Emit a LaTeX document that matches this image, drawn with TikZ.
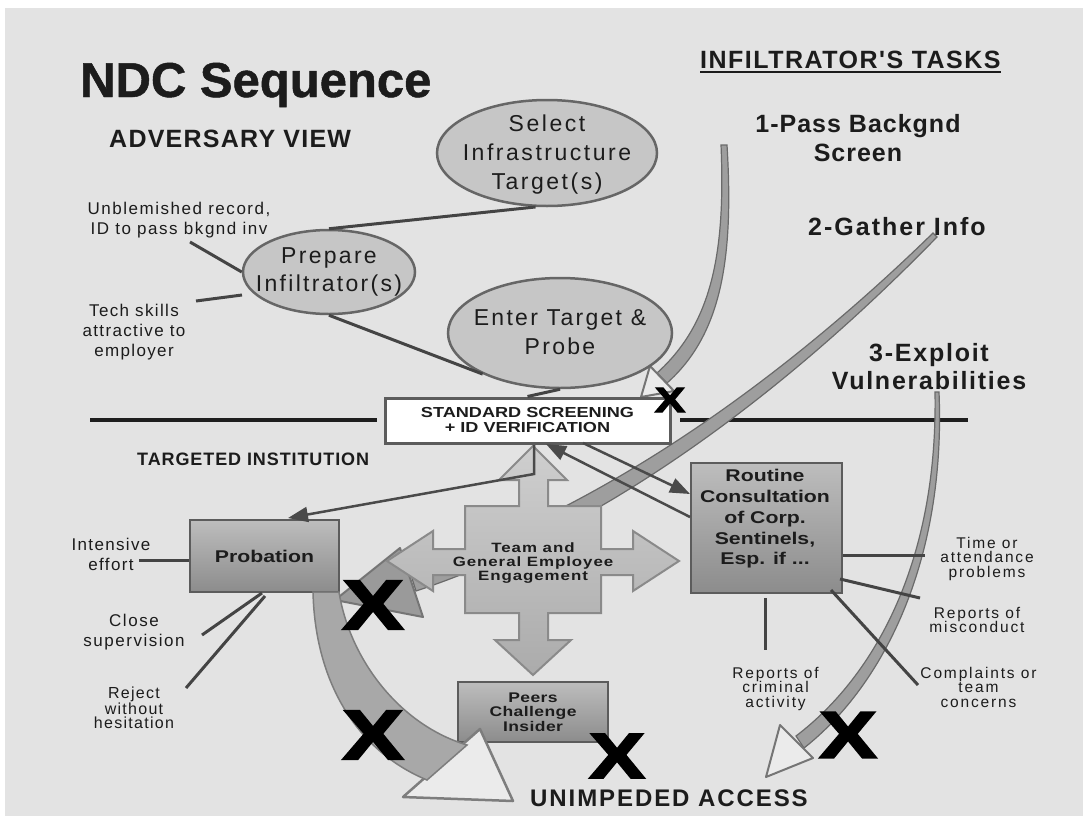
\documentclass[tikz,border=0pt]{standalone}
\usepackage{fontspec}
\usepackage{graphicx}
\setmainfont{Liberation Sans}
\newfontfamily\widesf{Liberation Sans}[FakeStretch=1.25]
\newfontfamily\heavyf{Liberation Sans}[FakeBold=3]
\newfontfamily\titlef{Liberation Sans}[FakeBold=1]
\newfontfamily\plainf{Liberation Sans}
\usetikzlibrary{shapes.geometric,arrows.meta}
\definecolor{bg}{HTML}{E3E3E3}
\definecolor{txtc}{HTML}{1C1C1C}
\definecolor{ellf}{HTML}{C6C6C6}
\definecolor{ellb}{HTML}{666666}
\definecolor{boxb}{HTML}{5C5C5C}
\definecolor{boxt}{HTML}{BDBDBD}
\definecolor{boxd}{HTML}{8C8C8C}
\definecolor{lnc}{HTML}{444444}
\definecolor{arc}{HTML}{4A4A4A}
\definecolor{hlc}{HTML}{1E1E1E}
\definecolor{bandf}{HTML}{9E9E9E}
\definecolor{bande}{HTML}{6A6A6A}
\definecolor{headf}{HTML}{EBEBEB}
\definecolor{heade}{HTML}{757575}
\definecolor{headd}{HTML}{9A9A9A}
\definecolor{crosst}{HTML}{CFCFCF}
\definecolor{crossd}{HTML}{ABABAB}
\definecolor{crossb}{HTML}{8A8A8A}
\definecolor{probf}{HTML}{A8A8A8}
\definecolor{probe}{HTML}{7D7D7D}
\newcommand{\myfs}[2]{\fontsize{#1}{#2}\selectfont}
\newcommand{\myls}[1]{\addfontfeatures{LetterSpace=#1}}
\newcommand{\bigX}{\scalebox{1.3}[1]{X}}
\begin{document}
\begin{tikzpicture}[x=1pt,y=-1pt,
  txt/.style={inner sep=0pt, align=center, text=txtc},
  ell/.style={ellipse, draw=ellb, fill=ellf, line width=2.5pt, inner sep=0pt},
  gbox/.style={rectangle, draw=boxb, line width=2.5pt, top color=boxt, bottom color=boxd, inner sep=0pt, align=center, text=txtc},
  conn/.style={draw=lnc, line width=3pt},
  arr/.style={draw=arc, line width=2.5pt, -{Triangle[length=20pt,width=15pt]}},
  band/.style={fill=bandf, draw=bande, line width=1.2pt},
  ohead/.style={fill=headf, draw=heade, line width=2pt, line join=round},
  xm/.style={inner sep=0pt, text=black},
  hline/.style={draw=hlc, line width=4pt},
]
\useasboundingbox (0,0) rectangle (1089,825);
\fill[white] (0,0) rectangle (1089,825);
\fill[bg] (5,8) rectangle (1083,816);

% dividers
\draw[hline] (90,420) -- (377,420);
\draw[hline] (680,420) -- (968,420);

% task arrow 2 (behind the cross)
\path[band] (933,233) .. controls (776,386) and (597,511) .. (410,572) -- (416,591) .. controls (603,529) and (784,394) .. (937,237) -- cycle;
\path[ohead, fill=headd] (400,548) -- (335,600) -- (423,617) -- cycle;

% task arrow 1
\path[band] (721,145) .. controls (726,260) and (709,326) .. (657,373) -- (667,383) .. controls (721,335) and (734,260) .. (727,145) -- cycle;
\path[ohead] (650,366) -- (641,397) -- (674,391) -- cycle;

% task arrow 3
\path[band] (935,392) .. controls (938,560) and (876,675) .. (796,736) -- (804,748) .. controls (884,685) and (946,560) .. (939,392) -- cycle;
\path[ohead] (780,725) -- (766,777) -- (813,758) -- cycle;

% four-way cross
\path[draw=crossb, line width=2pt, top color=crosst, bottom color=crossd]
 (533,446) -- (567,480) -- (548,480) -- (548,506) -- (601,506) -- (601,549) -- (633,549) -- (633,531) -- (679,561) -- (633,591) -- (633,575) -- (601,575) -- (601,613) -- (548,613) -- (548,640) -- (571,640) -- (533,675) -- (495,640) -- (519,640) -- (519,613) -- (465,613) -- (465,575) -- (433,575) -- (433,591) -- (387,561) -- (433,531) -- (433,549) -- (465,549) -- (465,506) -- (519,506) -- (519,480) -- (499,480) -- cycle;
\node[txt, font=\widesf\bfseries\myfs{13.5}{14}\myls{7}] (team) at (533,563) {Team and\\General Employee\\Engagement};

% ellipses
\node[ell, minimum width=220pt, minimum height=106pt] (selE) at (547,153) {};
\node[txt, font=\myfs{23}{29}\myls{11}] (select) at (547,155) {Select\\Infrastructure\\Target(s)};
\node[ell, minimum width=172pt, minimum height=84pt] (prepE) at (329,272) {};
\node[txt, font=\myfs{23}{28}\myls{10}] (prep) at (329,272) {Prepare\\Infiltrator(s)};
\node[ell, minimum width=224pt, minimum height=110pt] (entE) at (560,333) {};
\node[txt, font=\myfs{23}{29}\myls{10}] (enter) at (560,332) {Enter Target \&\\Probe};

% boxes
\node[draw=boxb, line width=3pt, fill=white, minimum width=285pt, minimum height=45pt, inner sep=0pt, align=center, text=txtc, font=\widesf\bfseries\myfs{14.5}{15}] (screen) at (527.5,420.5) {STANDARD SCREENING\\+ ID VERIFICATION};
\node[gbox, minimum width=149pt, minimum height=72pt, font=\widesf\bfseries\myfs{17}{20}] (prob) at (264.5,556) {Probation};
\node[gbox, minimum width=151pt, minimum height=130pt] (rout) at (766.5,528) {};
\node[txt, font=\widesf\bfseries\myfs{17}{20.75}] (routt) at (765,519) {Routine\\Consultation\\of Corp.\\Sentinels,\\Esp. if ...};
\node[gbox, minimum width=150pt, minimum height=60pt, font=\widesf\bfseries\myfs{14}{14.5}\myls{3}] (peers) at (533,712) {Peers\\Challenge\\Insider};

% titles and labels
\node[txt, anchor=base west, font=\titlef\bfseries\myfs{49}{49}] (title) at (80,97) {NDC Sequence};
\node[txt, anchor=base west, font=\bfseries\myfs{25}{25}\myls{5}] (adv) at (109,147) {ADVERSARY VIEW};
\node[txt, anchor=base west, font=\plainf\bfseries\myfs{25}{25}\myls{6}] (tasks) at (700,68) {INFILTRATOR'S TASKS};
\draw[line width=2pt, draw=txtc] ([yshift=-4pt]tasks.base west) -- ([yshift=-4pt]tasks.base east);
\node[txt, font=\bfseries\myfs{25}{29}\myls{4}] (t1) at (858,138.5) {1-Pass Backgnd\\Screen};
\node[txt, anchor=base west, font=\bfseries\myfs{25}{25}\myls{8}] (t2) at (808,235) {2-Gather Info};
\node[txt, font=\bfseries\myfs{25}{28}\myls{7}] (t3) at (929,367) {3-Exploit\\Vulnerabilities};
\node[txt, font=\myfs{17}{20}\myls{9}] (unbl) at (179,220.5) {Unblemished record,\\ID to pass bkgnd inv};
\node[txt, font=\myfs{17}{20}\myls{8}] (tech) at (134,332.5) {Tech skills\\attractive to\\employer};
\node[txt, anchor=base west, font=\bfseries\myfs{18}{18}\myls{5}] (inst) at (137,465) {TARGETED INSTITUTION};
\node[txt, font=\myfs{17}{20}\myls{8}] (intens) at (111,554) {Intensive\\effort};
\node[txt, font=\myfs{17}{20}\myls{9}] (close) at (134,632.5) {Close\\supervision};
\node[txt, font=\myfs{16}{14.5}\myls{8}] (reject) at (134,707.7) {Reject\\without\\hesitation};
\node[txt, font=\myfs{15.5}{14.5}\myls{12}] (time) at (987,558.5) {Time or\\attendance\\problems};
\node[txt, font=\myfs{15.5}{14.5}\myls{12}] (misc) at (977,620) {Reports of\\misconduct};
\node[txt, font=\myfs{15.5}{14.5}\myls{12}] (compl) at (978.5,687) {Complaints or\\team\\concerns};
\node[txt, font=\myfs{15.5}{14.5}\myls{12}] (crim) at (775.5,688.5) {Reports of\\criminal\\activity};
\node[txt, anchor=base west, font=\bfseries\myfs{24}{24}\myls{8}] (unimp) at (530,806) {UNIMPEDED ACCESS};

% connector end points
\coordinate (uEnd) at (190,242);
\coordinate (tEnd) at (196,301);
\coordinate (tPrep) at (242,295);
\coordinate (iEnd) at (139,560);
\coordinate (cEnd) at (202,635);
\coordinate (rEnd) at (186,688);
\coordinate (pB1) at (262,593);
\coordinate (pB2) at (265,596);
\coordinate (cA) at (534,445);
\coordinate (cA2) at (534,474);
\coordinate (probT) at (288,518);
\coordinate (sB) at (583,443);
\coordinate (rtB) at (690,494);
\coordinate (rtA) at (690,517);
\coordinate (sA) at (546,444);
\coordinate (tmE) at (925,555);
\coordinate (msE) at (920,598);
\coordinate (cpE) at (918,685);
\coordinate (crE) at (765,650);

% adversary connectors
\draw[conn] (uEnd) -- (prepE.west);
\draw[conn] (tEnd) -- (tPrep);
\draw[conn] (prepE.north) -- (selE.258);
\draw[conn] (prepE.south) -- (entE.208);
\draw[conn] (entE.south) -- (screen.north);

% probation connectors
\draw[conn] (iEnd) -- (iEnd -| prob.west);
\draw[conn] (cEnd) -- (pB1);
\draw[conn] (rEnd) -- (pB2);

% routine connectors
\draw[conn] (rout.east |- tmE) -- (tmE);
\draw[conn] (840,579) -- (msE);
\draw[conn] (831,590) -- (cpE);
\draw[conn] (crE |- rout.south) ++(0,4) -- (crE);

% arrows from screening
\draw[arr] (cA) -- (cA2) -- (probT);
\draw[arr] (sB) -- (rtB);
\draw[arr] (rtA) -- (sA);

% probation curved arrow
\path[ohead, fill=headf, line width=2.5pt, draw=probe] (403,797) -- (513,801) -- (480,729) -- cycle;
\path[fill=probf, draw=probe, line width=1.5pt] (313,592) .. controls (315,680) and (355,750) .. (427,780) -- (467,745) .. controls (400,725) and (350,660) .. (339,592) -- cycle;

% X marks
\node[xm, font=\heavyf\bfseries\myfs{35}{35}] (x1) at (670,400) {\bigX};
\node[xm, font=\heavyf\bfseries\myfs{70}{70}] (x2) at (373,605) {\bigX};
\node[xm, font=\heavyf\bfseries\myfs{70}{70}] (x3) at (373,735) {\bigX};
\node[xm, font=\heavyf\bfseries\myfs{64}{64}] (x4) at (617,756) {\bigX};
\node[xm, font=\heavyf\bfseries\myfs{66}{66}] (x5) at (848,735) {\bigX};
\end{tikzpicture}
\end{document}
